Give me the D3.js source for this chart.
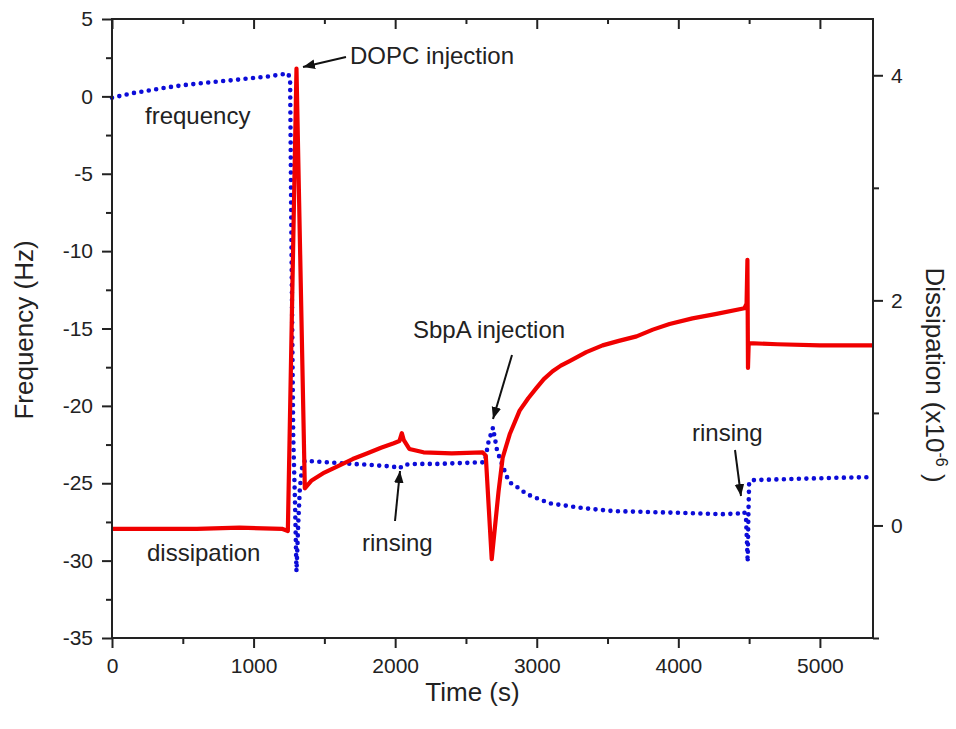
<!DOCTYPE html>
<html>
<head>
<meta charset="utf-8">
<script src="https://cdn.jsdelivr.net/npm/d3@7"></script>
<style>
  body { margin: 0; background: #fff; }
  svg { display: block; font-family: "Liberation Sans", Arial, sans-serif; }
</style>
</head>
<body>
<svg id="chart" width="956" height="729"></svg>
<script>
// frequency trace (left axis, Hz)
const freqTime = [0, 140, 270, 390, 500, 620, 740, 855, 970, 1090, 1210, 1240, 1258, 1268, 1280, 1292, 1303, 1316, 1327, 1345, 1362,
    1450, 1600, 1800, 1950, 2000, 2030, 2060, 2150, 2300, 2450, 2600, 2632, 2660, 2691, 2720, 2752, 2790, 2810, 2870, 2930,
    3010, 3090, 3210, 3320, 3540, 3750, 3960, 4150, 4310, 4430, 4465, 4478, 4490, 4495, 4500, 4515, 4700, 4900, 5100, 5375];
const freqHz = [-0.09, 0.2, 0.4, 0.58, 0.72, 0.84, 0.95, 1.05, 1.16, 1.27, 1.44, 1.5, 1.2, -10, -22, -26, -30.7, -27.5, -25.3, -23.8, -23.55,
    -23.6, -23.7, -23.8, -23.9, -23.95, -24.05, -23.8, -23.75, -23.75, -23.7, -23.65, -23.65, -22.3, -21.4, -22.9, -23.7, -24.6, -24.95, -25.3, -25.7,
    -26.0, -26.3, -26.45, -26.6, -26.8, -26.85, -26.9, -26.95, -27.0, -26.95, -26.85, -27.2, -30.1, -27.0, -25.0, -24.8, -24.75, -24.7, -24.65, -24.6];

// dissipation trace (right axis, x10^-6)
const dissTime = [0, 300, 600, 900, 1200, 1242, 1303, 1362, 1410, 1500, 1600, 1700, 1800, 1900, 1990, 2030, 2047, 2060, 2100, 2200,
    2400, 2618, 2640, 2682, 2730, 2759, 2809, 2879, 2940, 2997, 3050, 3112, 3170, 3232, 3350, 3465, 3580, 3705, 3820, 3938,
    4100, 4270, 4467, 4482, 4488, 4492, 4497, 4700, 5000, 5375];
const dissVal = [-0.03, -0.03, -0.03, -0.02, -0.03, -0.05, 4.06, 0.33, 0.40, 0.47, 0.53, 0.59, 0.64, 0.69, 0.73, 0.75, 0.82, 0.76, 0.68, 0.65,
    0.64, 0.65, 0.62, -0.3, 0.3, 0.6, 0.81, 1.02, 1.13, 1.22, 1.30, 1.37, 1.42, 1.46, 1.54, 1.6, 1.64, 1.68, 1.74, 1.79,
    1.84, 1.88, 1.93, 1.97, 2.36, 1.40, 1.62, 1.61, 1.60, 1.60];

const xTicks = [0, 1000, 2000, 3000, 4000, 5000];
const xMinor = [500, 1500, 2500, 3500, 4500];
const leftTicks = [5, 0, -5, -10, -15, -20, -25, -30, -35];
const leftMinor = [2.5, -2.5, -7.5, -12.5, -17.5, -22.5, -27.5, -32.5];
const rightTicks = [0, 2, 4];
const rightMinor = [-1, 1, 3];

const margin = { top: 19, right: 83, bottom: 91, left: 112 };
const width = 956, height = 729;
const innerW = width - margin.left - margin.right;
const innerH = height - margin.top - margin.bottom;

const svg = d3.select("#chart");
const g = svg.append("g").attr("transform", `translate(${margin.left},${margin.top})`);

const x = d3.scaleLinear().domain([0, 5375]).range([0, innerW]);
const yL = d3.scaleLinear().domain([-35, 5]).range([innerH, 0]);
const yR = d3.scaleLinear().domain([-1, 4.5]).range([innerH, 0]);

const freqData = freqTime.map((t, i) => ({ t, v: freqHz[i] }));
const dissData = dissTime.map((t, i) => ({ t, v: dissVal[i] }));

// frequency: dotted line
g.append("path")
    .attr("d", d3.line().x(d => x(d.t)).y(d => yL(d.v))(freqData))
    .attr("fill", "none")
    .attr("stroke", "#0c0cd8")
    .attr("stroke-width", 4.6)
    .attr("stroke-linecap", "round")
    .attr("stroke-dasharray", "0 7.5");

// dissipation: solid red
g.append("path")
    .attr("d", d3.line().x(d => x(d.t)).y(d => yR(d.v))(dissData))
    .attr("fill", "none")
    .attr("stroke", "#f00000")
    .attr("stroke-width", 4.2)
    .attr("stroke-linejoin", "round");

// axes
const fontTick = "21px";
const plainFmt = d => String(d);   // hyphen minus like the original
function styleAxis(sel) {
    sel.select(".domain").remove();
    sel.selectAll("line").attr("stroke", "#222").attr("stroke-width", 2);
    sel.selectAll("text").attr("fill", "#222").attr("font-size", fontTick)
        .attr("font-family", "'Liberation Sans', Arial, sans-serif");
}

g.append("g").attr("transform", `translate(0,${innerH})`)
    .call(d3.axisBottom(x).tickValues(xTicks).tickSize(10).tickPadding(10).tickFormat(plainFmt))
    .call(styleAxis);
g.append("g").attr("transform", `translate(0,${innerH})`)
    .call(d3.axisBottom(x).tickValues(xMinor).tickSize(6).tickFormat(""))
    .call(styleAxis);
// top mirror ticks (inward)
g.append("g")
    .call(d3.axisBottom(x).tickValues(xTicks).tickSize(10).tickFormat(""))
    .call(styleAxis);
g.append("g")
    .call(d3.axisBottom(x).tickValues(xMinor).tickSize(5).tickFormat(""))
    .call(styleAxis);

g.append("g")
    .call(d3.axisLeft(yL).tickValues(leftTicks).tickSize(10).tickPadding(9).tickFormat(plainFmt))
    .call(styleAxis);
g.append("g")
    .call(d3.axisLeft(yL).tickValues(leftMinor).tickSize(6).tickFormat(""))
    .call(styleAxis);

g.append("g").attr("transform", `translate(${innerW},0)`)
    .call(d3.axisRight(yR).tickValues(rightTicks).tickSize(10).tickPadding(8).tickFormat(plainFmt))
    .call(styleAxis);
g.append("g").attr("transform", `translate(${innerW},0)`)
    .call(d3.axisRight(yR).tickValues(rightMinor).tickSize(6).tickFormat(""))
    .call(styleAxis);

// frame
g.append("rect")
    .attr("width", innerW).attr("height", innerH)
    .attr("fill", "none").attr("stroke", "#222").attr("stroke-width", 2);

// axis titles
svg.append("text")
    .attr("x", margin.left + innerW / 2 - 20).attr("y", 701)
    .attr("text-anchor", "middle").attr("font-size", "26px").attr("fill", "#222")
    .text("Time (s)");

svg.append("text")
    .attr("transform", "translate(33,330) rotate(-90)")
    .attr("text-anchor", "middle").attr("font-size", "26px").attr("fill", "#222")
    .text("Frequency (Hz)");

const rt = svg.append("text")
    .attr("transform", "translate(926,375) rotate(90)")
    .attr("text-anchor", "middle").attr("font-size", "26px").attr("fill", "#222");
rt.append("tspan").text("Dissipation (x10");
rt.append("tspan").attr("dy", -10).attr("font-size", "16px").text("-6");
rt.append("tspan").attr("dy", 10).text(" )");

// annotations
const defs = svg.append("defs");
defs.append("marker")
    .attr("id", "head")
    .attr("viewBox", "0 0 10 10")
    .attr("refX", 10).attr("refY", 5)
    .attr("markerWidth", 6).attr("markerHeight", 6)
    .attr("markerUnits", "strokeWidth")
    .attr("orient", "auto")
    .append("path").attr("d", "M0,1 L10,5 L0,9 Z").attr("fill", "#111");

const labels = [
    { text: "DOPC injection", x: 350, y: 64 },
    { text: "frequency", x: 145, y: 124 },
    { text: "dissipation", x: 147, y: 561 },
    { text: "rinsing", x: 362, y: 551 },
    { text: "SbpA injection", x: 413, y: 338 },
    { text: "rinsing", x: 692, y: 441 }
];
labels.forEach(l => {
    svg.append("text")
        .attr("x", l.x).attr("y", l.y)
        .attr("font-size", "24px").attr("fill", "#222")
        .text(l.text);
});

const arrows = [
    [346, 57, 303, 67],
    [395, 521, 400, 471],
    [512, 355, 493, 419],
    [735, 450, 741, 496]
];
arrows.forEach(a => {
    svg.append("line")
        .attr("x1", a[0]).attr("y1", a[1]).attr("x2", a[2]).attr("y2", a[3])
        .attr("stroke", "#111").attr("stroke-width", 2)
        .attr("marker-end", "url(#head)");
});
</script>
</body>
</html>
